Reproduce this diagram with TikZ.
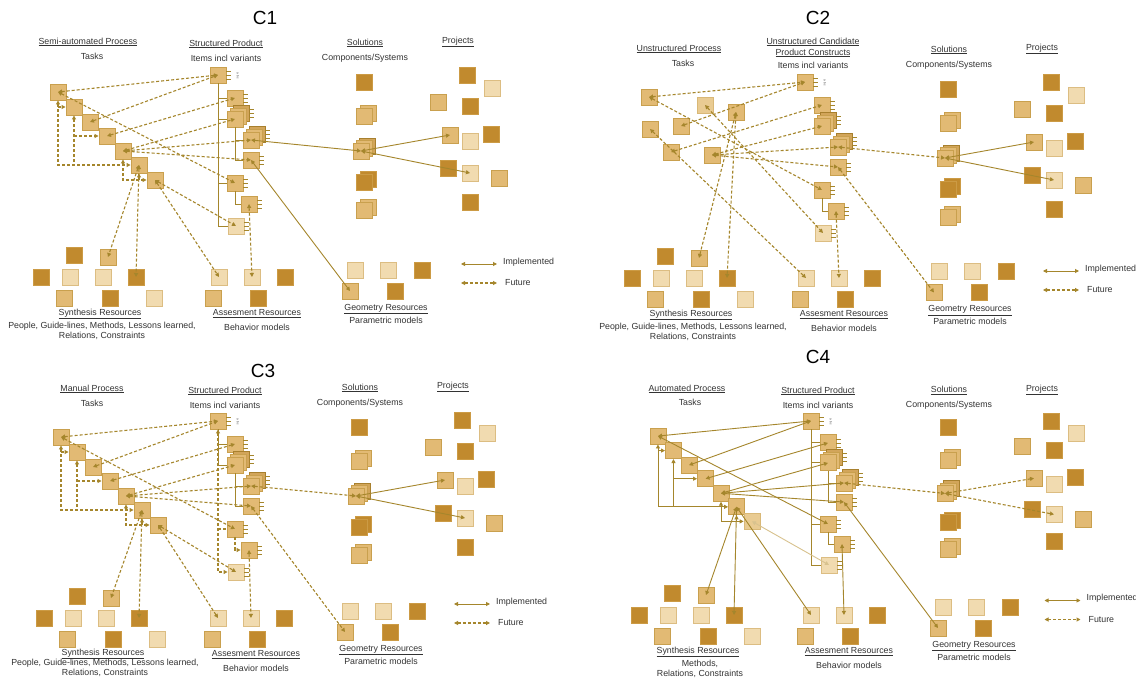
\documentclass[tikz,border=0pt]{standalone}
\usepackage{fontspec}
\setmainfont{Liberation Sans}
\usetikzlibrary{arrows.meta}
\definecolor{dk}{HTML}{C18A2E}
\definecolor{dkb}{HTML}{CC9B45}
\definecolor{md}{HTML}{E2BA74}
\definecolor{mdb}{HTML}{C9A04E}
\definecolor{lt}{HTML}{F1DBB0}
\definecolor{ltb}{HTML}{DCBD82}
\definecolor{ln}{HTML}{A5862C}
\definecolor{lnl}{HTML}{D8C28E}
\definecolor{tx}{HTML}{333333}
\definecolor{E9CB92}{HTML}{E9CB92}
\definecolor{D9B877}{HTML}{D9B877}
\definecolor{D2A55A}{HTML}{D2A55A}
\definecolor{A8802E}{HTML}{A8802E}
\tikzset{
 bx/.style={rectangle, minimum size=16pt, inner sep=0pt, line width=0.9pt},
 dkbox/.style={bx, fill=dk, draw=dkb},
 mdbox/.style={bx, fill=md, draw=mdb},
 m2box/.style={bx, fill=E9CB92, draw=D9B877},
 ltbox/.style={bx, fill=lt, draw=ltb},
 bkbox/.style={bx, fill=D2A55A, draw=A8802E},
 impl/.style={draw=ln, line width=0.9pt},
 futl/.style={draw=ln, line width=1.1pt, dash pattern=on 3pt off 2pt},
 tree/.style={draw=ln, line width=0.9pt},
 stub/.style={draw=ln, line width=0.7pt},
 lbl/.style={text=tx, inner sep=0pt, font=\fontsize{8.8}{10.4}\selectfont},
 big/.style={text=black, inner sep=0pt, font=\fontsize{19}{22}\selectfont},
 tiny/.style={text=tx, inner sep=0pt, font=\fontsize{3}{3}\selectfont, rotate=-90}
}
\newcommand\Stubs[1]{\foreach \dd in {-4,0,4}{\draw[stub] ([yshift=\dd pt]#1.east) -- ++(5pt,0pt);}}
\newcommand\Tasks[2]{%
 \node[mdbox] (#1T1) at (58,92) {};
 \node[mdbox] (#1T2) at (74,107) {};
 \node[mdbox] (#1T3) at (90,122) {};
 \node[mdbox] (#1T4) at (107,136) {};
 \node[mdbox] (#1T5) at (123,151) {};
 \node[mdbox] (#1T6) at (139,165) {};
 \node[#2] (#1T7) at (155,180) {};
}
\newcommand\Product[2]{%
 \node[mdbox] (#1P0) at (218,75) {};
 \node[tiny] (#1abc) at (238,76) {a b c};
 \node[mdbox] (#1P1) at (235,98) {};
 \node[bkbox] (#1P2y) at (241,113) {};
 \node[mdbox] (#1P2x) at (238,116) {};
 \node[mdbox] (#1P2) at (235,119) {};
 \node[bkbox] (#1P3y) at (257,134) {};
 \node[mdbox] (#1P3x) at (254,137) {};
 \node[mdbox] (#1P3) at (251,140) {};
 \node[mdbox] (#1P4) at (251,160) {};
 \node[mdbox] (#1P5) at (235,183) {};
 \node[mdbox] (#1P6) at (249,204) {};
 \node[#2] (#1P7) at (236,226) {};
 \Stubs{#1P0}\Stubs{#1P1}\Stubs{#1P2y}\Stubs{#1P3y}\Stubs{#1P4}\Stubs{#1P5}\Stubs{#1P6}\Stubs{#1P7}
}
\newcommand\Tree[1]{%
 \draw[tree] (#1P0.south) |- (#1P7.west);
 \draw[tree] (#1P0.south |- #1P1.west) -- (#1P1.west);
 \draw[tree] (#1P0.south |- #1P2.west) -- (#1P2.west);
 \draw[tree] (#1P0.south |- #1P5.west) -- (#1P5.west);
 \draw[tree] (#1P2.south) |- (#1P4.west);
 \draw[tree] (#1P2.south |- #1P3.west) -- (#1P3.west);
 \draw[tree] (#1P5.south) |- (#1P6.west);
}
\newcommand\Loops[2]{%
 \draw[#2,<->] (#1T1.south) |- (#1T6.west);
 \draw[#2,->] (#1T1.south |- #1T2.west) -- (#1T2.west);
 \draw[#2,<-] (#1T2.south) -- (#1T2.south |- #1T6.west);
 \draw[#2,->] (#1T2.south |- #1T4.west) -- (#1T4.west);
 \draw[#2,<->] (#1T5.south) |- (#1T7.west);
 \draw[#2,<-] (#1T6.south) -- (#1T6.south |- #1T7.west);
}
\newcommand\Sol[1]{%
 \node[dkbox] (#1S1) at (364,82) {};
 \node[mdbox] (#1S2b) at (368,113) {};
 \node[mdbox] (#1S2) at (364,116) {};
 \node[bkbox] (#1S3c) at (367,146) {};
 \node[mdbox] (#1S3b) at (364,148.5) {};
 \node[mdbox] (#1S3) at (361,151) {};
 \node[dkbox] (#1S4b) at (368,179) {};
 \node[dkbox] (#1S4) at (364,182) {};
 \node[mdbox] (#1S5b) at (368,207) {};
 \node[mdbox] (#1S5) at (364,210) {};
 \node[lbl] (#1Sh) at (365,43) {\underline{Solutions}};
 \node[lbl] (#1St) at (365,58) {Components/Systems};
 \node[dkbox] (#1Q1) at (467,75) {};
 \node[ltbox] (#1Q2) at (492,88) {};
 \node[mdbox] (#1Q3) at (438,102) {};
 \node[dkbox] (#1Q4) at (470,106) {};
 \node[mdbox] (#1Q5) at (450,135) {};
 \node[ltbox] (#1Q6) at (470,141) {};
 \node[dkbox] (#1Q7) at (491,134) {};
 \node[dkbox] (#1Q8) at (448,168) {};
 \node[ltbox] (#1Q9) at (470,173) {};
 \node[mdbox] (#1Q10) at (499,178) {};
 \node[dkbox] (#1Q11) at (470,202) {};
 \node[lbl] (#1Qh) at (458,42) {\underline{Projects}};
}
\newcommand\Synth[4]{%
 \node[dkbox] (#1R1) at (74,255) {};
 \node[mdbox] (#1R2) at (108,257) {};
 \node[dkbox] (#1R3) at (41,277) {};
 \node[ltbox] (#1R4) at (70,277) {};
 \node[ltbox] (#1R5) at (103,277) {};
 \node[dkbox] (#1R6) at (136,277) {};
 \node[mdbox] (#1R7) at (64,298) {};
 \node[dkbox] (#1R8) at (110,298) {};
 \node[ltbox] (#1R9) at (154,298) {};
 \node[lbl] (#1Rh) at (100,#4) {\underline{Synthesis Resources}};
 \node[lbl,align=center,anchor=north] (#1Rt) at (102,#3) {#2};
}
\newcommand\Assess[1]{%
 \node[ltbox] (#1A1) at (219,277) {};
 \node[ltbox] (#1A2) at (252,277) {};
 \node[dkbox] (#1A3) at (285,277) {};
 \node[mdbox] (#1A4) at (213,298) {};
 \node[dkbox] (#1A5) at (258,298) {};
 \node[lbl] (#1Ah) at (257,314) {\underline{Assesment Resources}};
 \node[lbl] (#1At) at (257,327) {Behavior models};
}
\newcommand\Geom[1]{%
 \node[ltbox] (#1G1) at (355,270) {};
 \node[ltbox] (#1G2) at (388,270) {};
 \node[dkbox] (#1G3) at (422,270) {};
 \node[mdbox] (#1G4) at (350,291) {};
 \node[dkbox] (#1G5) at (395,291) {};
 \node[lbl] (#1Gh) at (386,309) {\underline{Geometry Resources}};
 \node[lbl] (#1Gt) at (386,320) {Parametric models};
}
\newcommand\Legend[1]{%
 \coordinate (#1L1) at (461,264); \coordinate (#1L2) at (497,264);
 \coordinate (#1L3) at (461,283); \coordinate (#1L4) at (497,283);
 \draw[impl,<->] (#1L1) -- (#1L2);
 \draw[futl,<->] (#1L3) -- (#1L4);
 \node[lbl,anchor=west] (#1L5) at (503,262) {Implemented};
 \node[lbl,anchor=west] (#1L6) at (505,283) {Future};
}
\begin{document}
\begin{tikzpicture}[x=1pt,y=-1pt,>={Triangle[length=4pt,width=4pt]}]
\fill[white] (0,0) rectangle (1136,679);
\useasboundingbox (0,0) rectangle (1136,679);
% ---------- titles
\node[big] (c1) at (265,18) {C1};
\node[big] (c2) at (818,18) {C2};
\node[big] (c3) at (263,371) {C3};
\node[big] (c4) at (818,357) {C4};
% ================= C1
\node[lbl] (h1a) at (88,42) {\underline{Semi-automated Process}};
\node[lbl] (h1b) at (92,56) {Tasks};
\node[lbl] (h1c) at (226,44) {\underline{Structured Product}};
\node[lbl] (h1d) at (226,58) {Items incl variants};
\Tasks{a}{mdbox}
\Product{a}{ltbox}
\Sol{a}
\Synth{a}{People, Guide-lines, Methods, Lessons learned,\\Relations, Constraints}{322}{314}
\Assess{a}
\Geom{a}
\Legend{a}
\Tree{a}
\Loops{a}{futl}
\foreach \p/\q in {T1/P0,T3/P0,T4/P1,T5/P2,T5/P3,T5/P4,T1/P5,T7/P7,T6/R2,T6/R6,T7/A1,P6/A2}
  \draw[futl,<->] (a\p.center) -- (a\q.center);
\foreach \p/\q in {P3/S3,S3/Q5,S3/Q9,P4/G4}
  \draw[impl,<->] (a\p.center) -- (a\q.center);
% ================= C2
\node[lbl] (h2a) at (679,49) {\underline{Unstructured Process}};
\node[lbl] (h2b) at (683,63) {Tasks};
\node[lbl] (h2c) at (813,42) {\underline{Unstructured Candidate}};
\node[lbl] (h2d) at (813,53) {\underline{Product Constructs}};
\node[lbl] (h2e) at (813,65) {Items incl variants};
\node[mdbox] (bU1) at (649,97) {};
\node[m2box] (bU2) at (705,105) {};
\node[mdbox] (bU3) at (736,112) {};
\node[mdbox] (bU4) at (650,129) {};
\node[mdbox] (bU5) at (681,126) {};
\node[mdbox] (bU6) at (671,152) {};
\node[mdbox] (bU7) at (712,155) {};
\begin{scope}[xshift=587pt,yshift=-7pt]\Product{b}{ltbox}\end{scope}
\begin{scope}[xshift=584pt,yshift=-7pt]\Sol{b}\end{scope}
\begin{scope}[xshift=591pt,yshift=-1pt]\Synth{b}{People, Guide-lines, Methods, Lessons learned,\\Relations, Constraints}{322}{314}\end{scope}
\begin{scope}[xshift=587pt,yshift=-1pt]\Assess{b}\end{scope}
\begin{scope}[xshift=584pt,yshift=-1.5pt]\Geom{b}\end{scope}
\begin{scope}[xshift=582pt,yshift=-7pt]\Legend{b}\end{scope}
\draw[tree] (bP5.south) |- (bP6.west);
\foreach \p/\q in {U1/P0,U5/P0,U1/P5,U6/P1,U7/P2,U7/P3,U7/P4,U2/P7,U4/A1,U3/R2,U3/R6,P6/A2,P3/S3,P4/G4}
  \draw[futl,<->] (b\p.center) -- (b\q.center);
\foreach \p/\q in {S3/Q5,S3/Q9}
  \draw[impl,<->] (b\p.center) -- (b\q.center);
% ================= C3
\node[lbl] (h3a) at (92,389) {\underline{Manual Process}};
\node[lbl] (h3b) at (92,403) {Tasks};
\node[lbl] (h3c) at (225,391) {\underline{Structured Product}};
\node[lbl] (h3d) at (225,405) {Items incl variants};
\begin{scope}[xshift=3pt,yshift=-345pt]\Tasks{c}{mdbox}\end{scope}
\begin{scope}[yshift=-346pt]\Product{c}{ltbox}\end{scope}
\begin{scope}[xshift=-5pt,yshift=-345pt]\Sol{c}\end{scope}
\begin{scope}[xshift=3pt,yshift=-341pt]\Synth{c}{People, Guide-lines, Methods, Lessons learned,\\Relations, Constraints}{318}{313}\end{scope}
\begin{scope}[xshift=-1pt,yshift=-341pt]\Assess{c}\end{scope}
\begin{scope}[xshift=-5pt,yshift=-341pt]\Geom{c}\end{scope}
\begin{scope}[xshift=-7pt,yshift=-340pt]\Legend{c}\end{scope}
\draw[tree] (cP0.south) -- (cP0.south |- cP2.west) -- (cP2.west);
\draw[tree] (cP0.south |- cP1.west) -- (cP1.west);
\draw[tree] (cP2.south) |- (cP4.west);
\draw[tree] (cP2.south |- cP3.west) -- (cP3.west);
\draw[futl,<->] (cP0.south) |- (cP7.west);
\draw[futl] (cP0.south |- cP5.west) -- (cP5.west);
\draw[futl,->] (cP5.south) |- (cP6.west);
\Loops{c}{futl}
\foreach \p/\q in {T1/P0,T3/P0,T4/P1,T5/P2,T5/P3,T5/P4,T1/P5,T7/P7,T6/R2,T6/R6,T7/A1,P6/A2,P3/S3,P4/G4}
  \draw[futl,<->] (c\p.center) -- (c\q.center);
\foreach \p/\q in {S3/Q5,S3/Q9}
  \draw[impl,<->] (c\p.center) -- (c\q.center);
% ================= C4
\node[lbl] (h4a) at (687,389) {\underline{Automated Process}};
\node[lbl] (h4b) at (690,402) {Tasks};
\node[lbl] (h4c) at (818,391) {\underline{Structured Product}};
\node[lbl] (h4d) at (818,405) {Items incl variants};
\begin{scope}[x=0.97pt,y=-0.97pt,xshift=601.7pt,yshift=-346.8pt]\Tasks{d}{m2box}\end{scope}
\begin{scope}[y=-0.954pt,xshift=593pt,yshift=-349.4pt]\Product{d}{ltbox}\end{scope}
\begin{scope}[y=-0.95pt,xshift=584pt,yshift=-350pt]\Sol{d}\end{scope}
\begin{scope}[xshift=598pt,yshift=-338pt]\Synth{d}{Methods,\\Relations, Constraints}{322}{314}\end{scope}
\begin{scope}[xshift=592pt,yshift=-338pt]\Assess{d}\end{scope}
\begin{scope}[xshift=588pt,yshift=-337pt]\Geom{d}\end{scope}
\begin{scope}[xshift=583.5pt,yshift=-336.5pt]\Legend{d}\end{scope}
\Tree{d}
\Loops{d}{impl}
\foreach \p/\q in {T1/P0,T3/P0,T4/P1,T5/P2,T5/P3,T5/P4,T1/P5,T6/R2,T6/R6,T6/A1,P6/A2,P4/G4}
  \draw[impl,<->] (d\p.center) -- (d\q.center);
\draw[impl,draw=lnl,<->] (dT7.center) -- (dP7.center);
\foreach \p/\q in {P3/S3,S3/Q5,S3/Q9}
  \draw[futl,<->] (d\p.center) -- (d\q.center);
\end{tikzpicture}
\end{document}
